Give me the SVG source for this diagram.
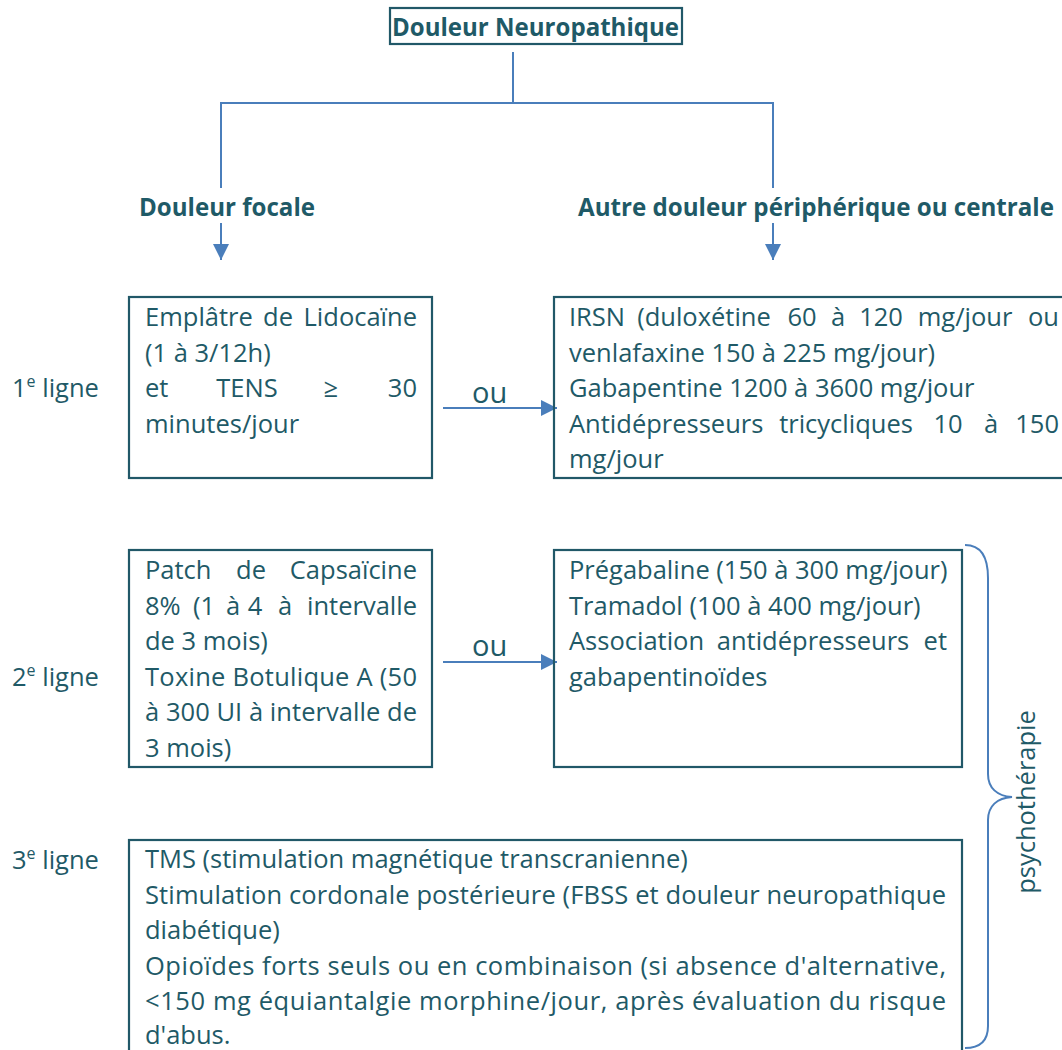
<svg xmlns="http://www.w3.org/2000/svg" width="1062" height="1050" viewBox="0 0 1062 1050">
<style>
text{font-family:"Open Sans","Liberation Sans",sans-serif;font-size:25.5px;fill:#1F5A67}
.b{font-weight:bold;font-size:25px}
.m{text-anchor:middle}
.e{text-anchor:end}
.ou{font-size:29px}
.box{fill:none;stroke:#215868;stroke-width:2.2}
.conn{fill:none;stroke:#4A7EBB;stroke-width:2}
</style>
<defs>
<marker id="ah" markerUnits="userSpaceOnUse" viewBox="0 0 16 16" refX="16" refY="8" markerWidth="16" markerHeight="16" orient="auto">
<path d="M0,0 L16,8 L0,16 z" fill="#4A7EBB"/>
</marker>
</defs>
<rect width="1062" height="1050" fill="#fff"/>

<g id="connectors">
<line class="conn" x1="513" y1="52" x2="513" y2="103"/>
<line class="conn" x1="220" y1="103" x2="774" y2="103"/>
<line class="conn" x1="221" y1="102" x2="221" y2="188"/>
<line class="conn" x1="773" y1="102" x2="773" y2="188"/>
<line class="conn" x1="221" y1="223" x2="221" y2="260" marker-end="url(#ah)"/>
<line class="conn" x1="773" y1="223" x2="773" y2="260" marker-end="url(#ah)"/>
<line class="conn" x1="443" y1="408" x2="557" y2="408" marker-end="url(#ah)"/>
<line class="conn" x1="443" y1="662" x2="557" y2="662" marker-end="url(#ah)"/>
<text class="ou" x="472" y="403">ou</text>
<text class="ou" x="472" y="656">ou</text>
</g>

<g id="title">
<rect class="box" x="390" y="8" width="292" height="36"/>
<text class="b" x="392" y="36" textLength="287" lengthAdjust="spacingAndGlyphs">Douleur Neuropathique</text>
</g>

<g id="focale">
<text class="b" x="139" y="216" textLength="176" lengthAdjust="spacingAndGlyphs">Douleur focale</text>
</g>

<g id="autre">
<text class="b" x="578" y="216" font-size="24.3" style="font-size:24.3px" textLength="476" lengthAdjust="spacingAndGlyphs">Autre douleur périphérique ou centrale</text>
</g>

<g id="labels">
<text x="12" y="397">1<tspan font-size="16" dy="-10">e</tspan><tspan dy="10"> ligne</tspan></text>
<text x="12" y="685.5">2<tspan font-size="16" dy="-10">e</tspan><tspan dy="10"> ligne</tspan></text>
<text x="12" y="869">3<tspan font-size="16" dy="-10">e</tspan><tspan dy="10"> ligne</tspan></text>
</g>

<g id="box1">
<rect class="box" x="129" y="297" width="303" height="181"/>
<text x="145" y="326">Emplâtre</text><text class="m" x="278" y="326">de</text><text class="e" x="417" y="326">Lidocaïne</text>
<text x="145" y="361.5">(1 à 3/12h)</text>
<text x="145" y="397">et</text><text class="m" x="247" y="397">TENS</text><text class="m" x="331" y="397">≥</text><text class="e" x="417" y="397">30</text>
<text x="145" y="432.5">minutes/jour</text>
</g>

<g id="box2">
<rect class="box" x="554" y="297" width="520" height="181"/>
<text x="569" y="326">IRSN</text><text class="m" x="704" y="326">(duloxétine</text><text class="m" x="802" y="326">60</text><text class="m" x="838" y="326">à</text><text class="m" x="881" y="326">120</text><text class="m" x="965" y="326">mg/jour</text><text class="e" x="1059" y="326">ou</text>
<text x="569" y="361.5">venlafaxine 150 à 225 mg/jour)</text>
<text x="569" y="397">Gabapentine 1200 à 3600 mg/jour</text>
<text x="569" y="432.5">Antidépresseurs</text><text class="m" x="846" y="432.5">tricycliques</text><text class="m" x="948" y="432.5">10</text><text class="m" x="991" y="432.5">à</text><text class="e" x="1059" y="432.5">150</text>
<text x="569" y="468">mg/jour</text>
</g>

<g id="box3">
<rect class="box" x="129" y="550" width="303" height="217"/>
<text x="145" y="579">Patch</text><text class="m" x="251" y="579">de</text><text class="e" x="417" y="579">Capsaïcine</text>
<text x="145" y="614.5">8%</text><text class="m" x="204" y="614.5">(1</text><text class="m" x="233" y="614.5">à</text><text class="m" x="255" y="614.5">4</text><text class="m" x="285" y="614.5">à</text><text class="e" x="417" y="614.5">intervalle</text>
<text x="145" y="650">de 3 mois)</text>
<text x="145" y="685.5" textLength="272" lengthAdjust="spacing">Toxine Botulique A (50</text>
<text x="145" y="721" textLength="272" lengthAdjust="spacing">à 300 UI à intervalle de</text>
<text x="145" y="756.5">3 mois)</text>
</g>

<g id="box4">
<rect class="box" x="554" y="550" width="408" height="217"/>
<text x="569" y="579">Prégabaline (150 à 300 mg/jour)</text>
<text x="569" y="614.5">Tramadol (100 à 400 mg/jour)</text>
<text x="569" y="650">Association</text><text class="m" x="813" y="650">antidépresseurs</text><text class="e" x="947" y="650">et</text>
<text x="569" y="685.5">gabapentinoïdes</text>
</g>

<g id="box5">
<rect class="box" x="129" y="840" width="833" height="230"/>
<text x="145" y="868">TMS (stimulation magnétique transcranienne)</text>
<text x="145" y="903.5" textLength="801" lengthAdjust="spacing">Stimulation cordonale postérieure (FBSS et douleur neuropathique</text>
<text x="145" y="939">diabétique)</text>
<text x="145" y="974.5" textLength="801" lengthAdjust="spacing">Opioïdes forts seuls ou en combinaison (si absence d'alternative,</text>
<text x="145" y="1010" textLength="801" lengthAdjust="spacing">&lt;150 mg équiantalgie morphine/jour, après évaluation du risque</text>
<text x="145" y="1044">d'abus.</text>
</g>

<g id="brace">
<path class="conn" d="M965,545 C980,545 988,556 988,578 L988,774 C988,788 997,796 1012,797 C997,798 988,806 988,820 L988,1026 C988,1041 980,1048 965,1048"/>
<text class="m" transform="translate(1035,802) rotate(-90)" x="0" y="0">psychothérapie</text>
</g>
</svg>
